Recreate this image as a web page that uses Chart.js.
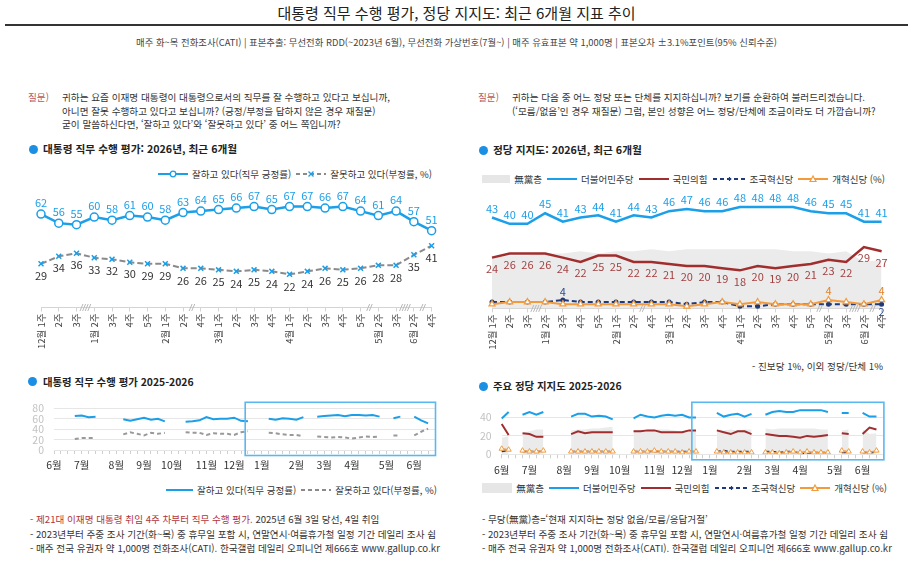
<!DOCTYPE html>
<html lang="ko">
<head>
<meta charset="utf-8">
<title>대통령 직무 수행 평가, 정당 지지도: 최근 6개월 지표 추이</title>
<script src="https://cdn.jsdelivr.net/npm/chart.js@4.4.1/dist/chart.umd.min.js"></script>
<style>
  html, body { margin: 0; padding: 0; background: #fff; }
  body { width: 913px; height: 575px; position: relative; overflow: hidden;
         font-family: 'Noto Sans CJK KR', 'Noto Sans', sans-serif; color: #333; }
  .abs { position: absolute; white-space: nowrap; }
  .q { font-size: 9.65px; line-height: 13.5px; color: #333; }
  .qtag { color: #b5595a; }
  .sec { font-size: 10.7px; line-height: 16px; font-weight: 700; color: #222; }
  .sec2 { font-size: 10.4px; }
  .dot { position: absolute; width: 9px; height: 9px; border-radius: 50%; background: #1a8fe3; }
  .legend { position: absolute; display: flex; align-items: center; height: 14px;
            font-size: 9.5px; white-space: nowrap; color: #333; }
  .legend svg { margin: 0 4px 0 5px; }
  .note { font-size: 9.6px; line-height: 14.5px; color: #333; }
  canvas { position: absolute; }
</style>
</head>
<body>

<div class="abs" style="left:0;width:913px;text-align:center;top:3px;font-size:15px;line-height:20px;color:#222;">대통령 직무 수행 평가, 정당 지지도: 최근 6개월 지표 추이</div>
<div class="abs" style="left:5px;width:903px;top:24px;height:2px;background:#333;"></div>
<div class="abs" style="left:0;width:913px;text-align:center;top:35px;font-size:9.4px;line-height:14px;color:#444;">매주 화~목 전화조사(CATI) | 표본추출: 무선전화 RDD(~2023년 6월), 무선전화 가상번호(7월~) | 매주 유효표본 약 1,000명 | 표본오차 ±3.1%포인트(95% 신뢰수준)</div>

<!-- left question -->
<div class="abs q qtag" style="left:28px;top:91px;">질문)</div>
<div class="abs q" style="left:62px;top:91px;">귀하는 요즘 이재명 대통령이 대통령으로서의 직무를 잘 수행하고 있다고 보십니까,<br>아니면 잘못 수행하고 있다고 보십니까? (긍정/부정을 답하지 않은 경우 재질문)<br>굳이 말씀하신다면, ‘잘하고 있다’와 ‘잘못하고 있다’ 중 어느 쪽입니까?</div>

<!-- right question -->
<div class="abs q qtag" style="left:478px;top:91px;">질문)</div>
<div class="abs q" style="left:512px;top:91px;">귀하는 다음 중 어느 정당 또는 단체를 지지하십니까? 보기를 순환하여 불러드리겠습니다.<br>(‘모름/없음’인 경우 재질문) 그럼, 본인 성향은 어느 정당/단체에 조금이라도 더 가깝습니까?</div>

<!-- section titles -->
<div class="dot" style="left:29px;top:145px;"></div>
<div class="abs sec" style="left:43px;top:141px;">대통령 직무 수행 평가: 2026년, 최근 6개월</div>
<div class="dot" style="left:479px;top:146px;"></div>
<div class="abs sec" style="left:493px;top:142px;">정당 지지도: 2026년, 최근 6개월</div>
<div class="dot" style="left:28px;top:377px;"></div>
<div class="abs sec sec2" style="left:43px;top:374px;">대통령 직무 수행 평가 2025-2026</div>
<div class="dot" style="left:479px;top:382px;"></div>
<div class="abs sec sec2" style="left:493px;top:378px;">주요 정당 지지도 2025-2026</div>

<!-- legends -->
<div class="legend" style="right:481px;top:167px;">
  <svg width="30" height="10"><line x1="0" y1="5" x2="30" y2="5" stroke="#1a9fe8" stroke-width="2"/><circle cx="15" cy="5" r="2.8" fill="#fff" stroke="#1a9fe8" stroke-width="1.3"/></svg>
  <span>잘하고 있다(직무 긍정률)</span>
  <svg width="30" height="10"><line x1="0" y1="5" x2="30" y2="5" stroke="#8a8a8a" stroke-width="2" stroke-dasharray="4 3"/><path d="M12.5 2.5 L17.5 7.5 M17.5 2.5 L12.5 7.5" stroke="#1a9fe8" stroke-width="1.3"/></svg>
  <span>잘못하고 있다(부정률, %)</span>
</div>
<div class="legend" style="right:28px;top:172px;">
  <svg width="28" height="10"><rect x="0" y="1" width="28" height="8" fill="#e6e6e6"/></svg>
  <span>無黨층</span>
  <svg width="30" height="10"><line x1="0" y1="5" x2="30" y2="5" stroke="#1a9fe8" stroke-width="2"/></svg>
  <span>더불어민주당</span>
  <svg width="30" height="10"><line x1="0" y1="5" x2="30" y2="5" stroke="#a12e2e" stroke-width="2"/></svg>
  <span>국민의힘</span>
  <svg width="33" height="10"><line x1="0" y1="5" x2="33" y2="5" stroke="#1f3a7a" stroke-width="2" stroke-dasharray="4 3"/><path d="M16.5 3 L16.5 7 M14.5 5 L18.5 5" stroke="#1f3a7a" stroke-width="1.2"/></svg>
  <span>조국혁신당</span>
  <svg width="30" height="10"><line x1="0" y1="5" x2="30" y2="5" stroke="#f39b3c" stroke-width="2"/><path d="M15 2 L18 7.5 L12 7.5 Z" fill="#fff" stroke="#f39b3c" stroke-width="1.2"/></svg>
  <span>개혁신당 (%)</span>
</div>
<div class="legend" style="right:476px;top:483px;">
  <svg width="27" height="10"><line x1="0" y1="5" x2="27" y2="5" stroke="#1a9fe8" stroke-width="2"/></svg>
  <span>잘하고 있다(직무 긍정률)</span>
  <svg width="30" height="10"><line x1="0" y1="5" x2="30" y2="5" stroke="#8a8a8a" stroke-width="2" stroke-dasharray="4 3"/></svg>
  <span>잘못하고 있다(부정률, %)</span>
</div>
<div class="legend" style="right:26px;top:481px;">
  <svg width="30" height="10"><rect x="0" y="0" width="30" height="10" fill="#e6e6e6"/></svg>
  <span>無黨층</span>
  <svg width="30" height="10"><line x1="0" y1="5" x2="30" y2="5" stroke="#1a9fe8" stroke-width="2"/></svg>
  <span>더불어민주당</span>
  <svg width="30" height="10"><line x1="0" y1="5" x2="30" y2="5" stroke="#a12e2e" stroke-width="2"/></svg>
  <span>국민의힘</span>
  <svg width="33" height="10"><line x1="0" y1="5" x2="33" y2="5" stroke="#1f3a7a" stroke-width="2" stroke-dasharray="4 3"/><path d="M16.5 3 L16.5 7 M14.5 5 L18.5 5" stroke="#1f3a7a" stroke-width="1.2"/></svg>
  <span>조국혁신당</span>
  <svg width="30" height="10"><line x1="0" y1="5" x2="30" y2="5" stroke="#f39b3c" stroke-width="2"/><path d="M15 2 L18 7.5 L12 7.5 Z" fill="#fff" stroke="#f39b3c" stroke-width="1.2"/></svg>
  <span>개혁신당 (%)</span>
</div>

<div class="abs note" style="right:30px;top:359px;">- 진보당 1%, 이외 정당/단체 1%</div>

<!-- footnotes -->
<div class="abs note" style="left:30px;top:512px;"><span style="color:#b3343a;">- 제21대 이재명 대통령 취임 4주 차부터 직무 수행 평가.</span> 2025년 6월 3일 당선, 4일 취임<br>- 2023년부터 주중 조사 기간(화~목) 중 휴무일 포함 시, 연말연시·여름휴가철 일정 기간 데일리 조사 쉼<br>- 매주 전국 유권자 약 1,000명 전화조사(CATI). 한국갤럽 데일리 오피니언 제666호 www.gallup.co.kr</div>
<div class="abs note" style="left:482px;top:512px;">- 무당(無黨)층=‘현재 지지하는 정당 없음/모름/응답거절’<br>- 2023년부터 주중 조사 기간(화~목) 중 휴무일 포함 시, 연말연시·여름휴가철 일정 기간 데일리 조사 쉼<br>- 매주 전국 유권자 약 1,000명 전화조사(CATI). 한국갤럽 데일리 오피니언 제666호 www.gallup.co.kr</div>

<canvas id="approval-recent" width="425" height="176" style="left:20px;top:184px;"></canvas>
<canvas id="party-recent" width="425" height="176" style="left:470px;top:184px;"></canvas>
<canvas id="approval-long" width="425" height="80" style="left:20px;top:392px;"></canvas>
<canvas id="party-long" width="425" height="85" style="left:470px;top:392px;"></canvas>

<script>
/* 최근 6개월 (주간) */
const recentWeeks = ['12월 1주', '2주', '3주', '1월 2주', '3주', '4주', '5주', '2월 1주', '2주', '4주',
    '3월 1주', '2주', '3주', '4주', '4월 1주', '2주', '3주', '4주', '5주', '5월 2주', '3주', '6월 2주', '4주'];
// 이 순번 다음에 조사를 쉰 주의 수
const skippedAfter = { 2: 2, 8: 1, 18: 1, 20: 2, 21: 1 };

const approvalRecent = [62, 56, 55, 60, 58, 61, 60, 58, 63, 64, 65, 66, 67, 65, 67, 67, 66, 67, 64, 61, 64, 57, 51];
const disapprovalRecent = [29, 34, 36, 33, 32, 30, 29, 29, 26, 26, 25, 24, 25, 24, 22, 24, 26, 25, 26, 28, 28, 35, 41];

const noPartyRecent = [24, 25, 25, 26, 26, 27, 26, 27, 27, 28, 27, 28, 28, 28, 28, 28, 28, 27, 27, 26, 27, 22, 23];
const democraticRecent = [43, 40, 40, 45, 41, 43, 44, 41, 44, 43, 46, 47, 46, 46, 48, 48, 48, 48, 46, 45, 45, 41, 41];
const pppRecent = [24, 26, 26, 26, 24, 22, 25, 25, 22, 22, 21, 20, 20, 19, 18, 20, 19, 20, 21, 23, 22, 29, 27];
const rebuildingRecent = [3, 3, 3, 3, 4, 3, 3, 3, 3, 3, 3, 2, 3, 3, 1, 1, 2, 2, 2, 2, 2, 2, 2];
const reformRecent = [2, 3, 3, 3, 2, 2, 2, 2, 2, 2, 2, 1, 2, 3, 2, 3, 2, 2, 2, 4, 3, 2, 4];

/* 2025-2026 (주간, 2025년 6월 1주 ~ 2026년 6월 4주) */
const longMonths = ['6월', '7월', '8월', '9월', '10월', '11월', '12월', '1월', '2월', '3월', '4월', '5월', '6월'];
const weeksInMonth = [4, 5, 4, 4, 5, 4, 4, 5, 4, 4, 5, 4, 4];

const approvalLong = [
    null, null, null, 65, 66, 63, 64, null,
    null, null, 59, 56, 59, 62, 58, 60,
    55, null, null, 54, 55, 57, 63, 59,
    60, 60, 62, 56, 55, null, null, 60,
    58, 61, 60, 58, 63, null, 64, 65,
    66, 67, 65, 67, 67, 66, 67, 64,
    null, 61, 64, null, 64, 57, 51, null];
const disapprovalLong = [
    null, null, null, 21, 23, 23, 23, null,
    null, null, 30, 34, 31, 28, 33, 31,
    33, null, null, 34, 33, 33, 29, 32,
    31, 31, 29, 34, 36, null, null, 33,
    32, 30, 29, 29, 26, null, 26, 25,
    24, 25, 24, 22, 24, 26, 25, 26,
    null, 28, 28, null, 28, 35, 41, null];

const noPartyLong = [
    18, 20, null, 23, 25, 27, 27, null,
    null, null, 26, 27, 27, 28, 28, 29,
    30, null, null, 26, 26, 27, 27, 27,
    27, 26, 24, 25, 25, null, null, 26,
    26, 27, 26, 27, 27, null, 28, 27,
    28, 28, 28, 28, 28, 28, 27, 27,
    null, 26, 27, null, 27, 22, 23, null];
const democraticLong = [
    39, 46, null, 43, 46, 43, 46, null,
    null, null, 41, 44, 44, 41, 42, 41,
    38, null, null, 39, 43, 41, 40, 42,
    43, 42, 43, 40, 40, null, null, 45,
    41, 43, 44, 41, 44, null, 43, 46,
    47, 46, 46, 48, 48, 48, 48, 46,
    null, 45, 45, null, 45, 41, 41, null];
const pppLong = [
    33, 21, null, 23, 22, 19, 19, null,
    null, null, 22, 25, 23, 24, 24, 24,
    24, null, null, 25, 25, 26, 26, 24,
    24, 24, 24, 26, 26, null, null, 26,
    24, 22, 25, 25, 22, null, 22, 21,
    20, 20, 19, 18, 20, 19, 20, 21,
    null, 23, 22, null, 22, 29, 27, null];
const rebuildingLong = [
    3, 4, null, 3, 3, 3, 3, null,
    null, null, 3, 3, 3, 3, 3, 3,
    3, null, null, 3, 3, 3, 3, 3,
    3, 3, 3, 3, 3, null, null, 3,
    4, 3, 3, 3, 3, null, 3, 3,
    2, 3, 3, 1, 1, 2, 2, 2,
    null, 2, 2, null, 2, 2, 2, null];
const reformLong = [
    6, 5, null, 4, 3, 3, 4, null,
    null, null, 3, 3, 3, 3, 3, 3,
    3, null, null, 3, 3, 3, 4, 3,
    3, 3, 2, 3, 3, null, null, 3,
    2, 2, 2, 2, 2, null, 2, 2,
    1, 2, 3, 2, 3, 2, 2, 2,
    null, 4, 3, null, 3, 2, 4, null];

const BLUE = '#1a9fe8';
const RED = '#a12e2e';
const NAVY = '#1f3a7a';
const ORANGE = '#f39b3c';
const GREY_LINE = '#8a8a8a';
const NOPARTY_FILL = '#ebebeb';

Chart.defaults.font.family = "'Noto Sans CJK KR', 'Noto Sans', sans-serif";
Chart.defaults.color = '#444';

// weekly category labels for the long charts
const longWeeks = [];
const longWeekNo = [];
longMonths.forEach(function(m, i) {
    for (let w = 1; w <= weeksInMonth[i]; w++) {
        longWeeks.push(m + ' ' + w + '주');
        longWeekNo.push(w);
    }
});

// number labels next to the points
const valueLabels = {
    id: 'valueLabels',
    afterDatasetsDraw(chart) {
        const ctx = chart.ctx;
        chart.data.datasets.forEach(function(ds, i) {
            if (!ds.tags) return;
            const meta = chart.getDatasetMeta(i);
            ctx.save();
            ctx.font = "11px 'Noto Sans CJK KR'";
            ctx.fillStyle = ds.tagColor;
            ctx.textAlign = 'center';
            ctx.textBaseline = 'middle';
            meta.data.forEach(function(pt, j) {
                const pos = (typeof ds.tags === 'string') ? ds.tags : ds.tags[j];
                if (!pos || ds.data[j] == null) return;
                const dy = pos === 'above' ? -ds.tagGap : ds.tagGap;
                ctx.fillText(ds.data[j], pt.x, pt.y + dy);
            });
            ctx.restore();
        });
    }
};

// "//" marks on the axis where survey weeks were skipped
const axisBreaks = {
    id: 'axisBreaks',
    afterDraw(chart, args, opts) {
        if (!opts.skipped) return;
        const x = chart.scales.x;
        const y = chart.chartArea.bottom;
        const ctx = chart.ctx;
        ctx.save();
        ctx.strokeStyle = '#b8b8b8';
        ctx.lineWidth = 1;
        Object.keys(opts.skipped).forEach(function(k) {
            const i = Number(k);
            const cx = (x.getPixelForValue(i) + x.getPixelForValue(i + 1)) / 2;
            const n = opts.skipped[k] * 2;
            for (let s = 0; s < n; s++) {
                const ox = cx + (s - (n - 1) / 2) * 2.6;
                ctx.beginPath();
                ctx.moveTo(ox - 1.5, y + 3.5);
                ctx.lineTo(ox + 1.5, y - 3.5);
                ctx.stroke();
            }
        });
        ctx.restore();
    }
};

// blue frame around the recent months
const recentBox = {
    id: 'recentBox',
    afterDraw(chart, args, opts) {
        if (opts.from == null) return;
        const a = chart.chartArea;
        const left = chart.scales.x.getPixelForValue(opts.from);
        const ctx = chart.ctx;
        ctx.save();
        ctx.strokeStyle = '#5ab8f0';
        ctx.lineWidth = 1.6;
        ctx.strokeRect(left, a.top - 6, a.right + 0.5 - left, a.bottom - a.top + 11.5);
        ctx.restore();
    }
};

function recentX(height) {
    return {
        offset: false,
        grid: { display: true, drawOnChartArea: false, tickLength: 4, color: '#d4d4d4' },
        border: { color: '#d4d4d4' },
        ticks: { autoSkip: false, minRotation: 90, maxRotation: 90, padding: 2, color: '#444', font: { size: 9.5 } },
        afterFit(scale) { scale.height = height; }
    };
}

function longX(height) {
    return {
        offset: false,
        grid: { display: true, drawOnChartArea: false, tickLength: 4, color: '#cfcfcf' },
        border: { display: false },
        ticks: {
            autoSkip: false, maxRotation: 0, minRotation: 0, padding: 5, color: '#333', font: { size: 10.5 },
            callback: function(v, i) { return longWeekNo[i] === 1 ? longWeeks[i].split(' ')[0] : ''; }
        },
        afterFit(scale) { scale.height = height; }
    };
}

function longY(max, width) {
    return {
        min: 0, max: max,
        grid: { color: '#e6e6e6', drawTicks: false },
        border: { display: false },
        ticks: { stepSize: 20, autoSkip: false, includeBounds: false, padding: 10, color: '#c2c2c2', font: { size: 10.5 } },
        afterFit(scale) { scale.width = width; }
    };
}

const baseOptions = {
    responsive: false,
    animation: false,
    events: []
};

/* 대통령 직무 수행 평가: 최근 6개월 */
new Chart(document.getElementById('approval-recent'), {
    type: 'line',
    data: {
        labels: recentWeeks,
        datasets: [{
            label: '잘하고 있다(직무 긍정률)',
            data: approvalRecent,
            borderColor: BLUE,
            borderWidth: 2.5,
            pointRadius: 4,
            pointBackgroundColor: '#fff',
            pointBorderColor: BLUE,
            pointBorderWidth: 1.5,
            clip: false,
            tags: 'above', tagColor: BLUE, tagGap: 11
        },
        {
            label: '잘못하고 있다(부정률, %)',
            data: disapprovalRecent,
            borderColor: GREY_LINE,
            borderWidth: 2,
            borderDash: [6, 3],
            pointStyle: 'crossRot',
            pointRadius: 3.5,
            pointBorderColor: BLUE,
            pointBorderWidth: 1.5,
            clip: false,
            tags: 'below', tagColor: '#333', tagGap: 12
        }]
    },
    options: Object.assign({}, baseOptions, {
        layout: { padding: { left: 21, right: 13, top: 6, bottom: 0 } },
        plugins: {
            legend: { display: false },
            tooltip: { enabled: false },
            axisBreaks: { skipped: skippedAfter }
        },
        scales: {
            x: recentX(52.5),
            y: { display: false, min: 0, max: 78 }
        }
    }),
    plugins: [valueLabels, axisBreaks]
});

/* 정당 지지도: 최근 6개월 */
new Chart(document.getElementById('party-recent'), {
    type: 'line',
    data: {
        labels: recentWeeks,
        datasets: [{
            label: '더불어민주당',
            data: democraticRecent,
            borderColor: BLUE,
            borderWidth: 2.5,
            pointRadius: 0,
            clip: false,
            tags: 'above', tagColor: BLUE, tagGap: 9
        },
        {
            label: '국민의힘',
            data: pppRecent,
            borderColor: RED,
            borderWidth: 2.5,
            pointRadius: 0,
            clip: false,
            tags: 'below', tagColor: '#a34040', tagGap: 11
        },
        {
            label: '개혁신당',
            data: reformRecent,
            borderColor: ORANGE,
            borderWidth: 2,
            pointStyle: 'triangle',
            pointRadius: 3.5,
            pointBackgroundColor: '#fff',
            pointBorderColor: ORANGE,
            pointBorderWidth: 1.2,
            clip: false,
            tags: { 19: 'above', 22: 'above' }, tagColor: '#e0822a', tagGap: 9
        },
        {
            label: '조국혁신당',
            data: rebuildingRecent,
            borderColor: NAVY,
            borderWidth: 2,
            borderDash: [5, 3],
            pointRadius: 1.5,
            pointBackgroundColor: NAVY,
            pointBorderColor: NAVY,
            clip: false,
            tags: { 4: 'above', 22: 'below' }, tagColor: '#2b4a8a', tagGap: 8
        },
        {
            label: '無黨층',
            data: noPartyRecent,
            borderWidth: 0,
            pointRadius: 0,
            fill: 'origin',
            backgroundColor: NOPARTY_FILL,
            order: 5
        }]
    },
    options: Object.assign({}, baseOptions, {
        layout: { padding: { left: 22, right: 12, top: 5, bottom: 0 } },
        plugins: {
            legend: { display: false },
            tooltip: { enabled: false },
            axisBreaks: { skipped: skippedAfter }
        },
        scales: {
            x: recentX(51.6),
            y: { display: false, min: 0, max: 56 }
        }
    }),
    plugins: [valueLabels, axisBreaks]
});

/* 대통령 직무 수행 평가 2025-2026 */
new Chart(document.getElementById('approval-long'), {
    type: 'line',
    data: {
        labels: longWeeks,
        datasets: [{
            label: '잘하고 있다(직무 긍정률)',
            data: approvalLong,
            borderColor: BLUE,
            borderWidth: 2,
            pointRadius: 0,
            spanGaps: false
        },
        {
            label: '잘못하고 있다(부정률, %)',
            data: disapprovalLong,
            borderColor: '#999',
            borderWidth: 2,
            borderDash: [4, 3],
            pointRadius: 0,
            spanGaps: false
        }]
    },
    options: Object.assign({}, baseOptions, {
        layout: { padding: { left: 0, right: 10, top: 9.7, bottom: 0 } },
        plugins: {
            legend: { display: false },
            tooltip: { enabled: false },
            recentBox: { from: 27.6 }
        },
        scales: {
            x: longX(22),
            y: longY(80, 34)
        }
    }),
    plugins: [recentBox]
});

/* 주요 정당 지지도 2025-2026 */
new Chart(document.getElementById('party-long'), {
    type: 'line',
    data: {
        labels: longWeeks,
        datasets: [{
            label: '더불어민주당',
            data: democraticLong,
            borderColor: BLUE,
            borderWidth: 2,
            pointRadius: 0
        },
        {
            label: '국민의힘',
            data: pppLong,
            borderColor: RED,
            borderWidth: 2,
            pointRadius: 0
        },
        {
            label: '개혁신당',
            data: reformLong,
            borderColor: ORANGE,
            borderWidth: 1.5,
            pointStyle: 'triangle',
            pointRadius: 3,
            pointBackgroundColor: '#fff',
            pointBorderColor: ORANGE,
            pointBorderWidth: 1
        },
        {
            label: '조국혁신당',
            data: rebuildingLong,
            borderColor: NAVY,
            borderWidth: 1.5,
            borderDash: [4, 3],
            pointRadius: 0
        },
        {
            label: '無黨층',
            data: noPartyLong,
            borderWidth: 0,
            pointRadius: 0,
            fill: 'origin',
            backgroundColor: NOPARTY_FILL,
            order: 5
        }]
    },
    options: Object.assign({}, baseOptions, {
        layout: { padding: { left: 0, right: 11.6, top: 9.8, bottom: 0 } },
        plugins: {
            legend: { display: false },
            tooltip: { enabled: false },
            recentBox: { from: 27.4 }
        },
        scales: {
            x: longX(22.7),
            y: longY(50, 31.7)
        }
    }),
    plugins: [recentBox]
});
</script>
</body>
</html>
